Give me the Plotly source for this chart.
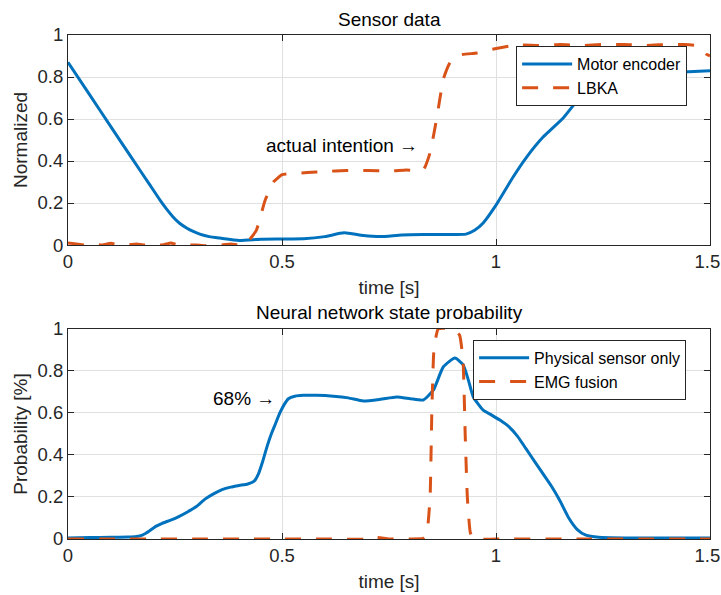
import plotly.graph_objects as go

# ---------------- data ----------------
enc_t = [0, 0.05, 0.10, 0.15, 0.19, 0.215, 0.23, 0.245, 0.26, 0.278, 0.29, 0.308, 0.33,
         0.355, 0.40, 0.45, 0.50, 0.55, 0.60, 0.645, 0.69, 0.73, 0.78, 0.83, 0.88, 0.93,
         0.95, 0.97, 1.00, 1.04, 1.072, 1.11, 1.157, 1.196, 1.22, 1.26, 1.30, 1.35, 1.40,
         1.45, 1.50]
enc_y = [0.87, 0.717, 0.564, 0.411, 0.29, 0.214, 0.172, 0.135, 0.105, 0.08, 0.067, 0.052,
         0.04, 0.033, 0.022, 0.028, 0.029, 0.03, 0.04, 0.058, 0.045, 0.04, 0.048, 0.05, 0.05,
         0.052, 0.07, 0.105, 0.19, 0.324, 0.42, 0.514, 0.605, 0.705, 0.77, 0.80, 0.81, 0.815,
         0.82, 0.825, 0.83]

lbka_t = [0, 0.02, 0.04, 0.06, 0.08, 0.10, 0.12, 0.14, 0.16, 0.18, 0.20, 0.22, 0.24, 0.26,
          0.28, 0.30, 0.32, 0.34, 0.36, 0.38, 0.40, 0.415, 0.44, 0.46, 0.48, 0.50, 0.52,
          0.56, 0.60, 0.65, 0.70, 0.75, 0.79, 0.83, 0.846, 0.862, 0.877, 0.893, 0.916, 0.955,
          0.986, 1.048, 1.10, 1.15, 1.20, 1.25, 1.30, 1.35, 1.40, 1.44, 1.465, 1.477, 1.49, 1.50]
lbka_y = [0.01, 0.005, 0.0, 0.005, 0.0, 0.008, 0.0, 0.0, 0.005, 0.0, 0.008, 0.0, 0.01, 0.0,
          0.0, 0.0, -0.003, 0.0, 0.0, 0.005, 0.0, 0.005, 0.07, 0.21, 0.30, 0.335, 0.34,
          0.345, 0.35, 0.355, 0.355, 0.352, 0.357, 0.357, 0.44, 0.61, 0.79, 0.87, 0.905, 0.914,
          0.93, 0.952, 0.95, 0.955, 0.95, 0.955, 0.955, 0.95, 0.955, 0.955, 0.95, 0.94, 0.91, 0.90]

phys_t = [0, 0.05, 0.10, 0.14, 0.16, 0.175, 0.19, 0.205, 0.22, 0.24, 0.26, 0.28, 0.30, 0.32,
          0.34, 0.36, 0.38, 0.40, 0.42, 0.435, 0.445, 0.455, 0.465, 0.475, 0.485, 0.495,
          0.505, 0.515, 0.53, 0.55, 0.58, 0.62, 0.655, 0.69, 0.73, 0.768, 0.80, 0.83, 0.854,
          0.877, 0.904, 0.923, 0.935, 0.947, 0.97, 0.99, 1.01, 1.03, 1.05, 1.07, 1.09, 1.11,
          1.13, 1.15, 1.17, 1.19, 1.21, 1.24, 1.30, 1.40, 1.50]
phys_y = [0.005, 0.007, 0.008, 0.009, 0.012, 0.02, 0.038, 0.06, 0.075, 0.09, 0.108, 0.13,
          0.155, 0.19, 0.215, 0.235, 0.247, 0.255, 0.262, 0.275, 0.31, 0.37, 0.44, 0.50,
          0.55, 0.60, 0.64, 0.668, 0.68, 0.684, 0.684, 0.68, 0.672, 0.657, 0.665, 0.676, 0.668,
          0.662, 0.71, 0.82, 0.862, 0.83, 0.76, 0.676, 0.614, 0.59, 0.565, 0.535, 0.49, 0.43,
          0.37, 0.31, 0.25, 0.18, 0.10, 0.045, 0.018, 0.008, 0.005, 0.005, 0.005]

emg_t = [0, 0.10, 0.20, 0.30, 0.40, 0.50, 0.60, 0.70, 0.72, 0.75, 0.80, 0.83, 0.838, 0.846,
         0.85, 0.855, 0.865, 0.90, 0.915, 0.923, 0.928, 0.933, 0.94, 0.948, 1.00, 1.20, 1.50]
emg_y = [0, 0, 0, 0, 0, 0, 0, 0, 0.008, 0, 0, 0.003, 0.02, 0.2, 0.6, 0.9, 1.0, 1.0, 0.97,
         0.85, 0.5, 0.2, 0.03, 0, 0, 0, 0]

x_ticks = [0, 0.5, 1, 1.5]
x_ticktext = ["0", "0.5", "1", "1.5\u00a0"]
y_ticks = [0, 0.2, 0.4, 0.6, 0.8, 1]
y_ticktext = ["0", "0.2", "0.4", "0.6", "0.8", "1"]

# ---------------- figure ----------------
BLUE = "#0072BD"
ORANGE = "#D95319"
AX = "#262626"
GRID = "#e0e0e0"
FONT = "Liberation Sans, Arial, sans-serif"
TICK_SIZE = 18.5
LABEL_SIZE = 19

fig = go.Figure()
fig.add_trace(go.Scatter(x=enc_t, y=enc_y, mode="lines", name="Motor encoder",
                         line=dict(color=BLUE, width=3, shape="spline", smoothing=0.5),
                         xaxis="x", yaxis="y", legend="legend"))
fig.add_trace(go.Scatter(x=lbka_t, y=lbka_y, mode="lines", name="LBKA",
                         line=dict(color=ORANGE, width=3, dash="16px,15px", shape="spline", smoothing=0.4),
                         xaxis="x", yaxis="y", legend="legend"))
fig.add_trace(go.Scatter(x=phys_t, y=phys_y, mode="lines", name="Physical sensor only",
                         line=dict(color=BLUE, width=3, shape="spline", smoothing=0.5),
                         xaxis="x2", yaxis="y2", legend="legend2"))
fig.add_trace(go.Scatter(x=emg_t, y=emg_y, mode="lines", name="EMG fusion",
                         line=dict(color=ORANGE, width=3, dash="16px,15px", shape="spline", smoothing=0.4),
                         xaxis="x2", yaxis="y2", legend="legend2"))

def xax(anchor):
    return dict(range=[0, 1.5], tickvals=x_ticks, ticktext=x_ticktext, showgrid=True,
                gridcolor=GRID, gridwidth=1, zeroline=False, showline=True, mirror="ticks",
                linecolor=AX, linewidth=1, ticks="inside", ticklen=6, tickcolor=AX,
                tickfont=dict(size=TICK_SIZE, color=AX, family=FONT), anchor=anchor,
                automargin=False, ticklabeloverflow="allow",
                title=dict(text="time [s]", font=dict(size=LABEL_SIZE, color=AX, family=FONT), standoff=9))

def yax(anchor, domain, title):
    return dict(range=[0, 1], tickvals=y_ticks, ticktext=y_ticktext, showgrid=True,
                gridcolor=GRID, gridwidth=1, zeroline=False, showline=True, mirror="ticks",
                linecolor=AX, linewidth=1, ticks="inside", ticklen=6, tickcolor=AX,
                tickfont=dict(size=TICK_SIZE, color=AX, family=FONT), anchor=anchor, domain=domain,
                automargin=False, ticklabeloverflow="allow",
                title=dict(text=title, font=dict(size=LABEL_SIZE, color=AX, family=FONT), standoff=4))

leg_common = dict(bgcolor="white", bordercolor=AX, borderwidth=1,
                  font=dict(size=16, color="black", family=FONT),
                  xanchor="left", yanchor="top", xref="paper", yref="paper",
                  tracegroupgap=0, itemwidth=50)

fig.update_layout(
    width=721, height=595,
    margin=dict(l=68, r=11, t=35, b=56),
    paper_bgcolor="white", plot_bgcolor="white",
    font=dict(family=FONT, color=AX),
    xaxis=xax("y"),
    yaxis=yax("x", [0.5833, 1.0], "Normalized"),
    xaxis2=xax("y2"),
    yaxis2=yax("x2", [0.0, 0.4167], "Probability [%]"),
    legend=dict(x=0.698, y=0.978, **leg_common),
    legend2=dict(x=0.631, y=0.395, **leg_common),
    showlegend=True,
    annotations=[
        dict(text="Sensor data", xref="paper", yref="paper", x=0.5, y=1.0, yshift=16,
             showarrow=False, font=dict(size=LABEL_SIZE, color="black", family=FONT), yanchor="middle"),
        dict(text="Neural network state probability", xref="paper", yref="paper", x=0.5,
             y=0.4167, yshift=16, showarrow=False, font=dict(size=LABEL_SIZE, color="black", family=FONT),
             yanchor="middle"),
        dict(text="actual intention →", xref="x", yref="y", x=0.822, y=0.476, xanchor="right",
             yanchor="middle", showarrow=False, font=dict(size=LABEL_SIZE, color="black", family=FONT)),
        dict(text="68% →", xref="x2", yref="y2", x=0.488, y=0.671, xanchor="right",
             yanchor="middle", showarrow=False, font=dict(size=LABEL_SIZE, color="black", family=FONT)),
    ],
)

fig.write_html("out.html", config={"displayModeBar": False},
               post_script="document.body.style.margin='0';document.body.style.overflow='hidden';")
